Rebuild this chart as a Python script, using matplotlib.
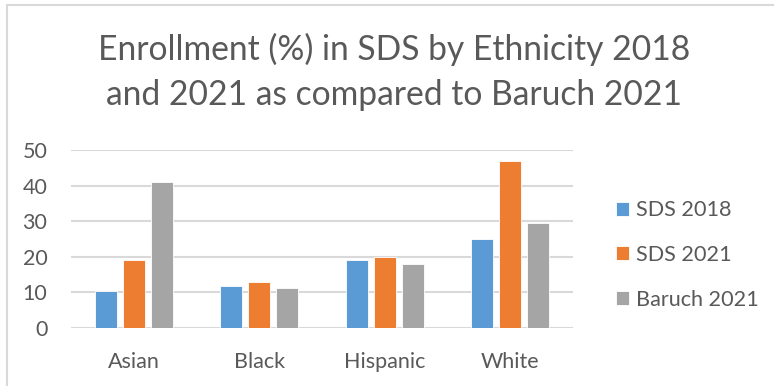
import matplotlib.pyplot as plt
import numpy as np
from matplotlib.lines import Line2D

categories = ["Asian", "Black", "Hispanic", "White"]
series_names = ["SDS 2018", "SDS 2021", "Baruch 2021"]
sds_2018 = [10.3, 11.7, 19.0, 25.0]
sds_2021 = [19.0, 12.8, 20.0, 47.0]
baruch_2021 = [40.9, 11.2, 18.0, 29.5]
yticks = [0, 10, 20, 30, 40, 50]

colors = ['#5B9BD5', '#ED7D31', '#A5A5A5']
text_color = '#595959'
grid_color = '#D9D9D9'

plt.rcParams['font.family'] = ['Lato', 'DejaVu Sans']

fig = plt.figure(figsize=(7.74, 3.86), dpi=100)
ax = fig.add_axes([71 / 774, 1 - 328 / 386, (573 - 71) / 774, (328 - 150) / 386])

x = np.arange(len(categories))
width = 0.175
step = 0.223
for i, (vals, name) in enumerate(zip([sds_2018, sds_2021, baruch_2021], series_names)):
    ax.bar(x + (i - 1) * step, vals, width, color=colors[i], label=name,
           edgecolor='white', linewidth=0.6, zorder=3)

ax.set_xlim(-0.5, len(categories) - 0.5)
ax.set_ylim(0, 50)
ax.set_yticks(yticks)
ax.set_xticks(x)
ax.set_xticklabels(categories)
ax.yaxis.grid(True, color=grid_color, linewidth=1.5, zorder=0)
for s in ax.spines.values():
    s.set_visible(False)
ax.tick_params(axis='both', length=0, labelsize=15.5, labelcolor=text_color)
ax.tick_params(axis='y', pad=17)
ax.tick_params(axis='x', pad=17)

fig.text(394 / 774, 1 - 72 / 386, "Enrollment (%) in SDS by Ethnicity 2018\nand 2021 as compared to Baruch 2021",
         ha='center', va='center', fontsize=24.2, color=text_color, linespacing=1.5)

handles, labels = ax.get_legend_handles_labels()
fig.legend(handles, labels, loc='center left', bbox_to_anchor=(596 / 774, 1 - 255 / 386),
           frameon=False, fontsize=15.6, labelcolor=text_color, handlelength=0.6,
           handleheight=0.6, handletextpad=0.35, labelspacing=1.14)

# chart outer border
fig.add_artist(Line2D([7 / 774, 7 / 774], [0, 1 - 5 / 386], color=grid_color, lw=1.5))
fig.add_artist(Line2D([7 / 774, 1], [1 - 5 / 386, 1 - 5 / 386], color=grid_color, lw=1.5))

fig.savefig("out.png", dpi=100)
